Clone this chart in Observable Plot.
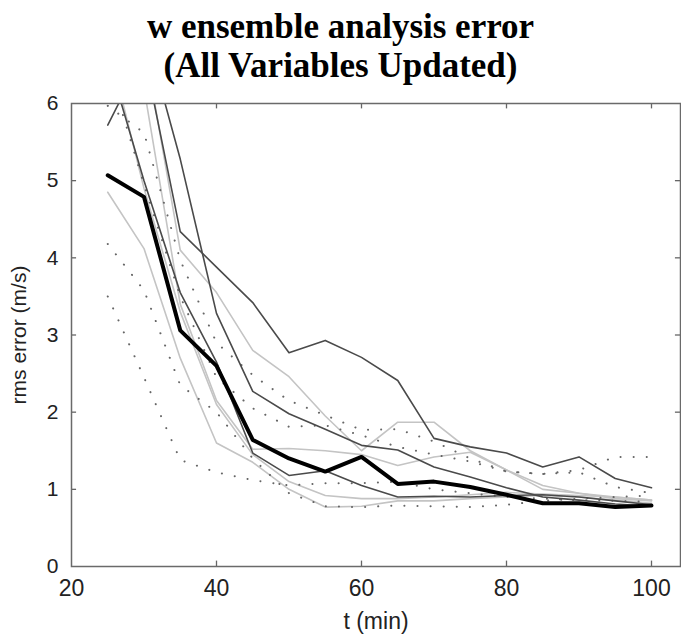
<!DOCTYPE html>
<html>
<head>
<meta charset="utf-8">
<script src="https://cdn.jsdelivr.net/npm/d3@7"></script>
<script src="https://cdn.jsdelivr.net/npm/@observablehq/plot@0.6"></script>
<style>
  html, body { margin: 0; padding: 0; background: #fff; overflow: hidden; }
  #title { width: 681px; height: 84px; overflow: visible; text-align: center;
    font-family: "Liberation Serif", "Times New Roman", serif; font-weight: bold;
    font-size: 35px; line-height: 39px; color: #000; padding-top: 7px; box-sizing: border-box;
    position: relative; z-index: 1; }
</style>
</head>
<body>
<div id="title">w ensemble analysis error<br>(All Variables Updated)</div>
<div id="chart"></div>
<script>
// time (min)
const t = [25, 30, 35, 40, 45, 50, 55, 60, 65, 70, 75, 80, 85, 90, 95, 100];
// ensemble mean (thick black)
const meanErr = [5.07, 4.79, 3.06, 2.60, 1.64, 1.40, 1.23, 1.42, 1.07, 1.10, 1.03, 0.93, 0.82, 0.82, 0.77, 0.79];
// dark grey solid members
const darkA = [5.72, 6.65, 4.34, 3.88, 3.42, 2.77, 2.93, 2.71, 2.41, 1.66, 1.55, 1.47, 1.29, 1.42, 1.14, 1.02];
const darkB = [8.00, 7.00, 5.28, 3.28, 2.27, 1.98, 1.78, 1.57, 1.51, 1.29, 1.16, 1.02, 0.90, 0.86, 0.81, 0.78];
const darkC = [6.60, 5.00, 3.55, 2.65, 1.47, 1.18, 1.24, 1.05, 0.90, 0.91, 0.90, 0.92, 0.93, 0.90, 0.85, 0.80];
// light grey solid members
const lightA = [4.85, 4.12, 2.70, 1.60, 1.35, 1.00, 0.77, 0.78, 0.85, 0.85, 0.88, 0.90, 0.92, 0.90, 0.86, 0.82];
const lightB = [6.80, 4.90, 3.30, 2.10, 1.45, 1.10, 0.92, 0.88, 0.88, 0.90, 0.93, 0.96, 0.94, 0.92, 0.90, 0.86];
const lightC = [8.00, 6.20, 3.40, 2.15, 1.52, 1.53, 1.50, 1.45, 1.31, 1.42, 1.48, 1.25, 1.00, 0.95, 0.88, 0.85];
const lightD = [8.50, 6.80, 4.10, 3.55, 2.80, 2.46, 1.95, 1.50, 1.87, 1.87, 1.50, 1.25, 1.05, 0.95, 0.90, 0.86];
// dotted members
const dotA = [3.50, 2.45, 1.38, 1.22, 1.12, 1.05, 1.08, 1.08, 1.10, 1.00, 0.95, 0.90, 0.88, 0.86, 0.85, 0.84];
const dotB = [4.18, 3.58, 2.35, 2.00, 1.40, 0.95, 0.78, 0.77, 0.79, 0.78, 0.77, 0.80, 0.85, 0.88, 0.90, 0.92];
const dotC = [5.97, 5.62, 3.97, 2.90, 2.48, 2.15, 1.96, 1.77, 1.78, 1.62, 1.40, 1.23, 1.20, 1.22, 1.03, 0.95];
const dotD = [6.50, 4.95, 3.50, 2.45, 2.05, 1.81, 1.83, 1.70, 1.55, 1.45, 1.36, 1.23, 1.20, 1.25, 1.42, 1.42];

const xTicks = [20, 40, 60, 80, 100];
const yTicks = [0, 1, 2, 3, 4, 5, 6];

const toRows = (arr, id) => arr.map((v, i) => ({t: t[i], v, id}));
const lightRows = [lightA, lightB, lightC, lightD].flatMap((a, k) => toRows(a, "L" + k));
const darkRows = [darkA, darkB, darkC].flatMap((a, k) => toRows(a, "D" + k));
const dotRows = [dotA, dotB, dotC, dotD].flatMap((a, k) => toRows(a, "P" + k));
const meanRows = toRows(meanErr, "M");

const chart = Plot.plot({
  width: 681,
  height: 558,
  marginTop: 19,
  marginBottom: 76,
  marginLeft: 71,
  marginRight: 1,
  style: {fontFamily: "Liberation Sans, Arial, sans-serif", fontSize: "23px", color: "#222", background: "transparent"},
  x: {domain: [20, 104], ticks: xTicks},
  y: {domain: [0, 6], ticks: yTicks},
  marks: [
    Plot.line(lightRows, {x: "t", y: "v", z: "id", stroke: "#c4c4c4", strokeWidth: 1.6, clip: true}),
    Plot.line(dotRows, {x: "t", y: "v", z: "id", stroke: "#666", strokeWidth: 2, strokeDasharray: "0.1,13", strokeLinecap: "round", clip: true}),
    Plot.line(darkRows, {x: "t", y: "v", z: "id", stroke: "#4a4a4a", strokeWidth: 1.6, clip: true}),
    Plot.line(meanRows, {x: "t", y: "v", stroke: "#000", strokeWidth: 4, strokeLinejoin: "round", clip: true}),
    // inward ticks on all four sides
    Plot.ruleX(xTicks.slice(1), {x: d => d, y1: 0, y2: 0.07, stroke: "#666", strokeWidth: 1.3}),
    Plot.ruleX(xTicks.slice(1), {x: d => d, y1: 6, y2: 5.93, stroke: "#666", strokeWidth: 1.3}),
    Plot.ruleY(yTicks.slice(1, -1), {y: d => d, x1: 20, x2: 20.7, stroke: "#666", strokeWidth: 1.3}),
    Plot.ruleY(yTicks.slice(1, -1), {y: d => d, x1: 104, x2: 103.3, stroke: "#666", strokeWidth: 1.3}),
    Plot.frame({stroke: "#6a6a6a", strokeWidth: 1.5}),
    Plot.axisX({ticks: xTicks, tickSize: 0, tickPadding: 13, tickFormat: d3.format("d"), label: "t (min)", labelAnchor: "center", labelArrow: "none", labelOffset: 62, fontSize: 23, fill: "#222"}),
    Plot.axisY({ticks: yTicks, tickSize: 0, tickPadding: 13, tickFormat: d3.format("d"), label: "rms error (m/s)", labelAnchor: "center", labelArrow: "none", labelOffset: 60, fontSize: 21, fill: "#222"})
  ]
});
document.getElementById("chart").appendChild(chart);
</script>
</body>
</html>
